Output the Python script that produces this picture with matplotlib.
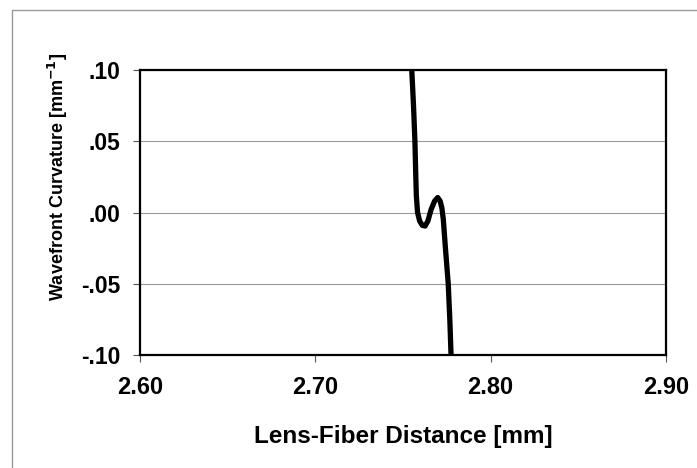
import matplotlib.pyplot as plt
from matplotlib.patches import Rectangle

# lens-fiber distance [mm] vs wavefront curvature [1/mm]
distance = [2.7550, 2.7560, 2.7568, 2.7572, 2.7576, 2.7583, 2.7595, 2.7610,
            2.7626, 2.7642, 2.7660, 2.7680, 2.7698, 2.7712, 2.7722, 2.7730,
            2.7742, 2.7758, 2.7767, 2.7774]
curvature = [0.100, 0.075, 0.050, 0.030, 0.012, 0.000, -0.006, -0.009,
             -0.0095, -0.006, 0.002, 0.008, 0.0105, 0.008, 0.003, -0.005,
             -0.025, -0.050, -0.075, -0.100]

x_ticks = [2.60, 2.70, 2.80, 2.90]
x_ticklabels = ['2.60', '2.70', '2.80', '2.90']
y_ticks = [0.10, 0.05, 0.00, -0.05, -0.10]
y_ticklabels = ['.10', '.05', '.00', '-.05', '-.10']


def main():
    plt.rcParams['font.family'] = ['Liberation Sans', 'DejaVu Sans']
    plt.rcParams['font.weight'] = 'bold'

    fig = plt.figure(figsize=(6.97, 4.68), dpi=100)
    ax = fig.add_axes([140 / 697, 1 - 355 / 468, 526 / 697, 285 / 468])

    ax.plot(distance, curvature, c='black', linewidth=3.8,
            solid_capstyle='butt', solid_joinstyle='round')

    ax.set_xlim(2.60, 2.90)
    ax.set_ylim(-0.10, 0.10)
    ax.set_xticks(x_ticks)
    ax.set_xticklabels(x_ticklabels)
    ax.set_yticks(y_ticks)
    ax.set_yticklabels(y_ticklabels)
    ax.tick_params(direction='out', length=5, width=0.8, color='#555555')
    ax.tick_params(axis='x', pad=10, labelsize=17)
    ax.tick_params(axis='y', pad=9, labelsize=16.5)
    for lab in ax.get_xticklabels() + ax.get_yticklabels():
        lab.set_fontweight('bold')

    ax.grid(axis='y', color='#999999', linewidth=0.8)
    ax.set_axisbelow(True)
    for s in ax.spines.values():
        s.set_linewidth(1.6)
        s.set_color('black')

    fig.text(403 / 697, 1 - 437 / 468, 'Lens-Fiber Distance [mm]',
             ha='center', va='center', fontsize=17.5, fontweight='bold')
    fig.text(58 / 697, 1 - 177 / 468, 'Wavefront Curvature [mm$^{\\mathbf{-1}}$]',
             ha='center', va='center', rotation=90, fontsize=13,
             fontweight='bold')

    # outer chart frame
    fig.patches.append(Rectangle((12 / 697, -0.05), 1.1, 1 - 10 / 468 + 0.05,
                                 transform=fig.transFigure, fill=False,
                                 edgecolor='#999999', linewidth=1))

    fig.savefig('out.png', dpi=100)


if __name__ == '__main__':
    main()
